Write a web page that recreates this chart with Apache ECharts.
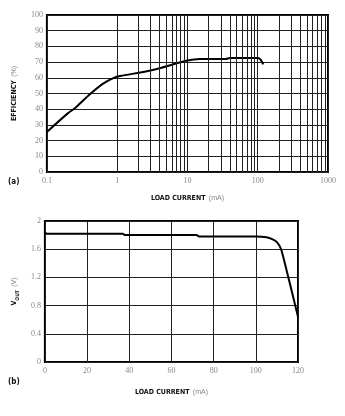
<!DOCTYPE html>
<html><head><meta charset="utf-8">
<script src="https://cdn.jsdelivr.net/npm/echarts@6/dist/echarts.min.js"></script>
<style>html,body{margin:0;padding:0;background:#fff}#c{width:345px;height:416px}</style>
</head><body><div id="c"></div>
<script>
// Chart (a): efficiency vs load current (log x)
const effCurrent = [0.1, 0.2, 0.25, 0.42, 0.64, 0.93, 1.1, 3.2, 10, 15, 35, 40, 100, 110, 120];
const efficiency = [25.5, 37.5, 40.6, 50, 56.5, 60.3, 61.1, 65, 71, 72, 72, 72.6, 72.6, 71.5, 68.5];
const effYTicks = [0, 10, 20, 30, 40, 50, 60, 70, 80, 90, 100];
const logMinorGrid = [2,3,4,5,6,7,8,9,20,30,40,50,60,70,80,90,200,300,400,500,600,700,800,900];
// Chart (b): VOUT vs load current
const voutCurrent = [0, 0.8, 37, 38, 72, 73, 100, 105, 108, 110, 112, 116, 120];
const vout = [1.84, 1.82, 1.82, 1.80, 1.80, 1.78, 1.78, 1.77, 1.74, 1.70, 1.60, 1.13, 0.64];
const voutYTicks = [0, 0.4, 0.8, 1.2, 1.6, 2];

const tickFont = {color: '#888', fontSize: 8, fontFamily: 'Liberation Serif, serif'};
const nameRich = {
  b: {fontFamily: 'DejaVu Sans Condensed, Liberation Sans Narrow, sans-serif', fontWeight: 'bold', fontSize: 7, color: '#111'},
  g: {fontFamily: 'Liberation Sans, sans-serif', fontSize: 7, color: '#888'},
  s: {fontFamily: 'DejaVu Sans Condensed, sans-serif', fontWeight: 'bold', fontSize: 5, color: '#111', verticalAlign: 'bottom'}
};
const split = {show: true, lineStyle: {color: '#222', width: 1}};

const chart = echarts.init(document.getElementById('c'), null, {renderer: 'canvas'});
chart.setOption({
  animation: false,
  grid: [
    {left: 40, top: 15, width: 288, height: 157, show: true, borderColor: '#000', borderWidth: 2, backgroundColor: 'transparent'},
    {left: 41, top: 221, width: 257, height: 141, show: true, borderColor: '#000', borderWidth: 2, backgroundColor: 'transparent'}
  ],
  graphic: [
    {type: 'text', left: 8, top: 178, style: {text: '(a)', font: 'bold 8px DejaVu Sans Condensed, sans-serif', fill: '#111'}},
    {type: 'text', left: 8, top: 378, style: {text: '(b)', font: 'bold 8px DejaVu Sans Condensed, sans-serif', fill: '#111'}}
  ],
  xAxis: [
    {type: 'log', gridIndex: 0, min: 0.1, max: 1000, logBase: 10,
     axisLine: {show: false}, axisTick: {show: false}, splitLine: split,
     axisLabel: Object.assign({margin: 5, formatter: v => String(v)}, tickFont),
     name: '{b|LOAD CURRENT} {g|(mA)}', nameLocation: 'middle', nameGap: 20,
     nameTextStyle: {rich: nameRich}},
    {type: 'value', gridIndex: 1, min: 0, max: 120, interval: 20,
     axisLine: {show: false}, axisTick: {show: false}, splitLine: split,
     axisLabel: Object.assign({margin: 5}, tickFont),
     name: '{b|LOAD CURRENT} {g|(mA)}', nameLocation: 'middle', nameGap: 24,
     nameTextStyle: {rich: nameRich}}
  ],
  yAxis: [
    {type: 'value', gridIndex: 0, min: 0, max: 100, interval: 10,
     axisLine: {show: false}, axisTick: {show: false}, splitLine: split,
     axisLabel: Object.assign({margin: 4, formatter: v => effYTicks.includes(v) ? String(v) : ''}, tickFont),
     name: '{b|EFFICIENCY} {g|(%)}', nameLocation: 'middle', nameGap: 18, nameRotate: 90,
     nameTextStyle: {rich: nameRich}},
    {type: 'value', gridIndex: 1, min: 0, max: 2, interval: 0.4,
     axisLine: {show: false}, axisTick: {show: false}, splitLine: split,
     axisLabel: Object.assign({margin: 4, formatter: v => voutYTicks.includes(+v.toFixed(1)) ? String(+v.toFixed(1)) : ''}, tickFont),
     name: '{b|V}{s|OUT} {g|(V)}', nameLocation: 'middle', nameGap: 20, nameRotate: 90,
     nameTextStyle: {rich: nameRich}}
  ],
  series: [
    {type: 'line', xAxisIndex: 0, yAxisIndex: 0, showSymbol: false, smooth: 0.3,
     lineStyle: {color: '#000', width: 2},
     data: effCurrent.map((x, i) => [x, efficiency[i]]),
     markLine: {silent: true, symbol: 'none', label: {show: false}, animation: false,
       lineStyle: {color: '#222', width: 1, type: 'solid'},
       data: logMinorGrid.map(v => ({xAxis: v}))}},
    {type: 'line', xAxisIndex: 1, yAxisIndex: 1, showSymbol: false, smooth: 0.2,
     lineStyle: {color: '#000', width: 2},
     data: voutCurrent.map((x, i) => [x, vout[i]])}
  ]
});
</script></body></html>
